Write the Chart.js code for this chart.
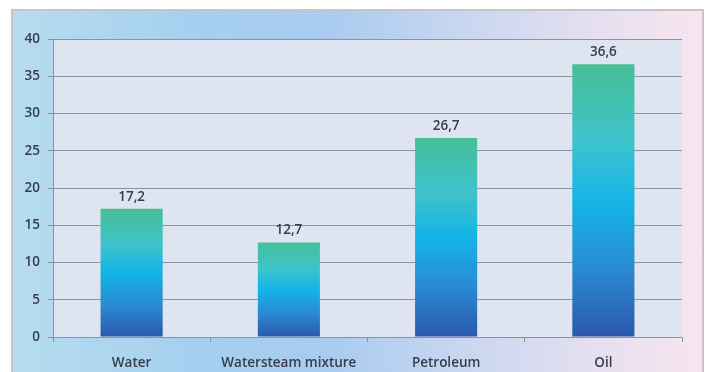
<!DOCTYPE html>
<html>
<head>
<meta charset="utf-8">
<script src="https://cdn.jsdelivr.net/npm/chart.js@4/dist/chart.umd.min.js"></script>
<style>
  html, body { margin: 0; padding: 0; background: #ffffff; }
  body { width: 709px; height: 372px; position: relative; overflow: hidden; }
  #frame {
    position: absolute; left: 11px; top: 9px; width: 689px; height: 380px;
    border: 2px solid #c4c6ca;
    background: linear-gradient(90deg, #b6dcee 0%, #a6d0ef 25%, #a8cbef 45%, #c8d6f0 65%, #e6dff0 85%, #f8e5ee 100%);
  }
  #wrap { position: absolute; left: 0; top: 0; width: 709px; height: 372px; }
</style>
</head>
<body>
<div id="frame"></div>
<div id="wrap"><canvas id="c" width="709" height="372"></canvas></div>
<script>
const categories = ["Water", "Watersteam mixture", "Petroleum", "Oil"];
const values = [17.2, 12.7, 26.7, 36.6];
const yTicks = [0, 5, 10, 15, 20, 25, 30, 35, 40];

const fontFamily = "'Open Sans', 'DejaVu Sans', sans-serif";
const textColor = '#363c48';

// vertical gradient from each bar's top down to the baseline
function barFill(ctx) {
  const chart = ctx.chart;
  const y = chart.scales && chart.scales.y;
  if (!chart.chartArea || !y || ctx.raw === undefined) return '#1ab4e4';
  const top = y.getPixelForValue(ctx.raw);
  const base = y.getPixelForValue(0);
  const g = chart.ctx.createLinearGradient(0, top, 0, base);
  g.addColorStop(0, '#46be96');
  g.addColorStop(0.28, '#3ec3cc');
  g.addColorStop(0.5, '#14b4e6');
  g.addColorStop(0.75, '#2a8ad2');
  g.addColorStop(1, '#2b58ac');
  return g;
}

const plotBackground = {
  id: 'plotBackground',
  beforeDraw(chart) {
    const a = chart.chartArea;
    const c = chart.ctx;
    c.save();
    c.fillStyle = '#dfe4f1';
    c.fillRect(a.left, a.top, a.right - a.left, a.bottom - a.top);
    c.restore();
  }
};

const valueLabels = {
  id: 'valueLabels',
  afterDatasetsDraw(chart) {
    const c = chart.ctx;
    const meta = chart.getDatasetMeta(0);
    c.save();
    c.font = "600 13.5px " + fontFamily;
    c.fillStyle = textColor;
    c.textAlign = 'center';
    c.textBaseline = 'alphabetic';
    meta.data.forEach((bar, i) => {
      const txt = values[i].toFixed(1).replace('.', ',');
      c.fillText(txt, bar.x, bar.y - 8);
    });
    c.restore();
  }
};

new Chart(document.getElementById('c'), {
  type: 'bar',
  data: {
    labels: categories,
    datasets: [{
      data: values,
      backgroundColor: barFill,
      borderWidth: 0,
      categoryPercentage: 1,
      barPercentage: 0.395
    }]
  },
  options: {
    responsive: false,
    animation: false,
    events: [],
    layout: { padding: { left: 0, top: 39, right: 27, bottom: 0 } },
    plugins: { legend: { display: false }, tooltip: { enabled: false } },
    scales: {
      x: {
        afterFit(s) { s.height = 35; },
        grid: {
          offset: true,
          drawOnChartArea: false,
          drawTicks: true,
          tickLength: 5,
          color: '#8e929a'
        },
        border: { display: true, color: '#8e929a', width: 1 },
        ticks: {
          color: textColor,
          padding: 13,
          font: { family: fontFamily, size: 13.5, weight: '600' }
        }
      },
      y: {
        min: 0,
        max: 40,
        afterFit(s) { s.width = 53; },
        afterBuildTicks(s) { s.ticks = yTicks.map(v => ({ value: v })); },
        grid: {
          color: '#8e929a',
          tickLength: 5,
          lineWidth: 1
        },
        border: { display: true, color: '#8e929a', width: 1 },
        ticks: {
          color: textColor,
          padding: 8,
          font: { family: fontFamily, size: 13.5, weight: '600' }
        }
      }
    }
  },
  plugins: [plotBackground, valueLabels]
});
</script>
</body>
</html>
